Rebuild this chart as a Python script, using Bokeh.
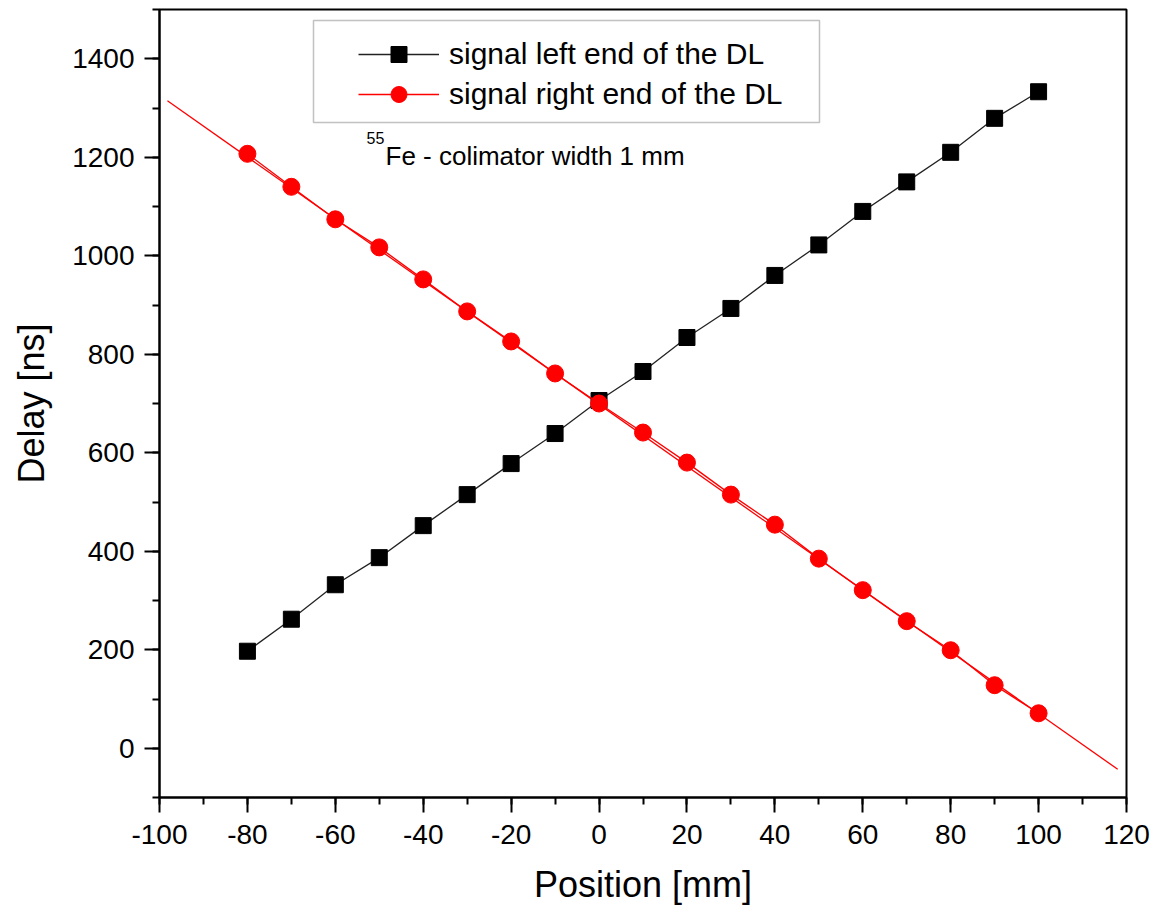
from bokeh.plotting import figure
from bokeh.models import (Legend, LegendItem, Label, BoxAnnotation, Range1d,
                          FixedTicker, PrintfTickFormatter)
from bokeh.embed import file_html
from bokeh.resources import INLINE

# Collimator position along the delay line [mm]
position = [-80, -70, -60, -50, -40, -30, -20, -10, 0, 10,
            20, 30, 40, 50, 60, 70, 80, 90, 100]

# Measured delay [ns] of the signal at each end of the DL
delay_left = [197, 262, 332, 387, 452, 515, 578, 639, 706, 765,
              834, 893, 960, 1022, 1090, 1150, 1210, 1279, 1333]
delay_right = [1207, 1140, 1074, 1017, 952, 887, 826, 761, 700, 641,
               580, 515, 454, 385, 321, 258, 199, 128, 71]

# Linear fit through the right-end signal (end points of the fitted line)
fit_x = [-98.2, 118.0]
fit_y = [1314.6, -42.7]

x_ticks = [-100, -80, -60, -40, -20, 0, 20, 40, 60, 80, 100, 120]
y_ticks = [0, 200, 400, 600, 800, 1000, 1200, 1400]

FONT = "Liberation Sans"
RED = "#ff0000"

p = figure(width=1158, height=914, output_backend="svg", toolbar_location=None,
           x_range=Range1d(-100, 120), y_range=Range1d(-100, 1500),
           min_border_left=159, min_border_right=32,
           min_border_top=9, min_border_bottom=117)

p.background_fill_color = "white"
p.border_fill_color = "white"
p.grid.visible = False
p.outline_line_color = "black"
p.outline_line_width = 2

# Fitted line and measured series
p.line(fit_x, fit_y, line_color=RED, line_width=1.3)
l_line = p.line(position, delay_left, line_color="#222222", line_width=1.3)
l_pts = p.scatter(position, delay_left, marker="square", size=16,
                  fill_color="black", line_color="black")
r_line = p.line(position, delay_right, line_color=RED, line_width=1.3)
r_pts = p.scatter(position, delay_right, marker="circle", size=17,
                  fill_color=RED, line_color=RED)

# Axes
for ax in (p.xaxis[0], p.yaxis[0]):
    ax.axis_line_width = 2
    ax.axis_line_color = "black"
    ax.major_tick_line_width = 2
    ax.minor_tick_line_width = 2
    ax.major_tick_in = 0
    ax.major_tick_out = 15
    ax.minor_tick_in = 0
    ax.minor_tick_out = 7
    ax.major_label_text_font = FONT
    ax.major_label_text_font_size = "28px"
    ax.major_label_text_color = "black"
    ax.axis_label_text_font = FONT
    ax.axis_label_text_font_size = "36px"
    ax.axis_label_text_font_style = "normal"
    ax.axis_label_text_color = "black"
    ax.formatter = PrintfTickFormatter(format="%d")

p.xaxis[0].ticker = FixedTicker(ticks=x_ticks,
                                minor_ticks=list(range(-100, 121, 10)))
p.yaxis[0].ticker = FixedTicker(ticks=y_ticks,
                                minor_ticks=list(range(-100, 1501, 100)))
p.xaxis[0].axis_label = "Position [mm]"
p.yaxis[0].axis_label = "Delay [ns]"
p.xaxis[0].major_label_standoff = 12
p.yaxis[0].major_label_standoff = 10
p.xaxis[0].axis_label_standoff = 17
p.yaxis[0].axis_label_standoff = 17

# Legend
legend = Legend(items=[
    LegendItem(label="signal left end of the DL", renderers=[l_line, l_pts]),
    LegendItem(label="signal right end of the DL", renderers=[r_line, r_pts]),
], location=(187, 671))
legend.label_text_font = FONT
legend.label_text_font_size = "30px"
legend.label_text_color = "black"
legend.glyph_width = 81
legend.glyph_height = 40
legend.label_height = 40
legend.label_standoff = 10
legend.spacing = 0
legend.padding = 12
legend.margin = 0
legend.border_line_alpha = 0
legend.background_fill_alpha = 0
p.add_layout(legend)

# Legend frame
p.add_layout(BoxAnnotation(left=154, right=660, top=777, bottom=675,
                           left_units="screen", right_units="screen",
                           top_units="screen", bottom_units="screen",
                           fill_alpha=0, line_color="#333333", line_width=1.5,
                           level="overlay"))

# Source annotation with superscript mass number
p.add_layout(Label(x=207, y=660, x_units="screen", y_units="screen",
                   text="55", text_font=FONT, text_font_size="16px",
                   text_color="black", text_baseline="alphabetic"))
p.add_layout(Label(x=226, y=642, x_units="screen", y_units="screen",
                   text="Fe - colimator width 1 mm", text_font=FONT,
                   text_font_size="26px", text_color="black",
                   text_baseline="alphabetic"))

open("out.html", "w").write(file_html(p, INLINE))
